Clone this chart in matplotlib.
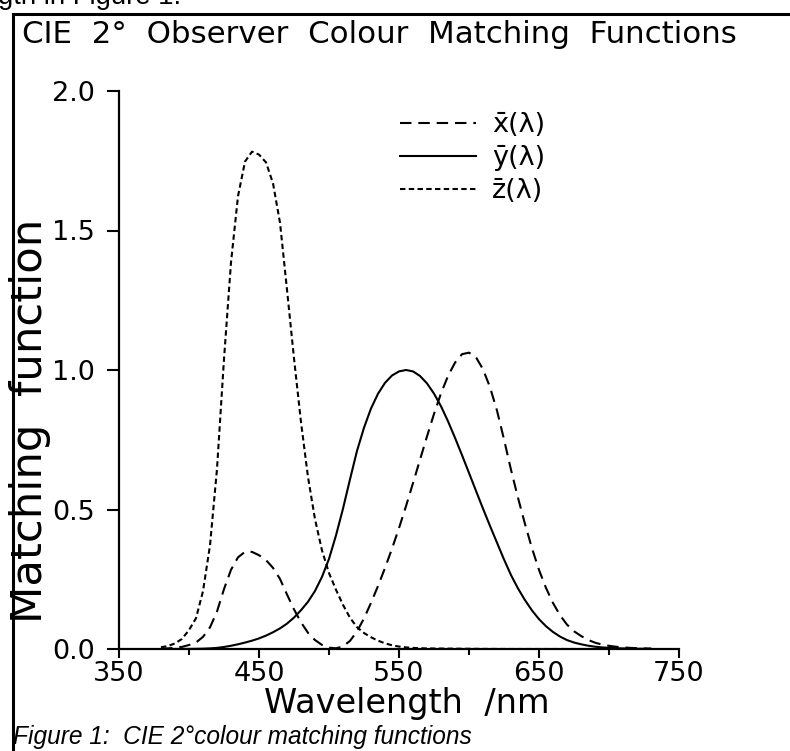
import matplotlib
matplotlib.use("Agg")
import matplotlib.pyplot as plt
from matplotlib.lines import Line2D

# ---- data (CIE 1931 2-degree observer, read at 5 nm steps) ----
wavelength = list(range(380, 735, 5))
xbar = [0.001368, 0.002236, 0.004243, 0.007650, 0.014310, 0.023190, 0.043510, 0.077630,
        0.134380, 0.214770, 0.283900, 0.328500, 0.348280, 0.348060, 0.336200, 0.318700,
        0.290800, 0.251100, 0.195360, 0.142100, 0.095640, 0.057950, 0.032010, 0.014700,
        0.004900, 0.002400, 0.009300, 0.029100, 0.063270, 0.109600, 0.165500, 0.225750,
        0.290400, 0.359700, 0.433450, 0.512050, 0.594500, 0.678400, 0.762100, 0.842500,
        0.916300, 0.978600, 1.026300, 1.056700, 1.062200, 1.045600, 1.002600, 0.938400,
        0.854450, 0.751400, 0.642400, 0.541900, 0.447900, 0.360800, 0.283500, 0.218700,
        0.164900, 0.121200, 0.087400, 0.063600, 0.046770, 0.032900, 0.022700, 0.015840,
        0.011359, 0.008111, 0.005790, 0.004109, 0.002899, 0.002049, 0.001440]
ybar = [0.000039, 0.000064, 0.000120, 0.000217, 0.000396, 0.000640, 0.001210, 0.002180,
        0.004000, 0.007300, 0.011600, 0.016840, 0.023000, 0.029800, 0.038000, 0.048000,
        0.060000, 0.073900, 0.090980, 0.112600, 0.139020, 0.169300, 0.208020, 0.258600,
        0.323000, 0.407300, 0.503000, 0.608200, 0.710000, 0.793200, 0.862000, 0.914850,
        0.954000, 0.980300, 0.994950, 1.000000, 0.995000, 0.978600, 0.952000, 0.915400,
        0.870000, 0.816300, 0.757000, 0.694900, 0.631000, 0.566800, 0.503000, 0.441200,
        0.381000, 0.321000, 0.265000, 0.217000, 0.175000, 0.138200, 0.107000, 0.081600,
        0.061000, 0.044580, 0.032000, 0.023200, 0.017000, 0.011920, 0.008210, 0.005723,
        0.004102, 0.002929, 0.002091, 0.001484, 0.001047, 0.000740, 0.000520]
zbar = [0.006450, 0.010550, 0.020050, 0.036210, 0.067850, 0.110200, 0.207400, 0.371300,
        0.645600, 1.039050, 1.385600, 1.622960, 1.747060, 1.782600, 1.772110, 1.744100,
        1.669200, 1.528100, 1.287640, 1.041900, 0.812950, 0.616200, 0.465180, 0.353300,
        0.272000, 0.212300, 0.158200, 0.111700, 0.078250, 0.057250, 0.042160, 0.029840,
        0.020300, 0.013400, 0.008750, 0.005750, 0.003900, 0.002750, 0.002100, 0.001800,
        0.001650, 0.001400, 0.001100, 0.001000, 0.000800, 0.000600, 0.000340, 0.000240,
        0.000190, 0.000100, 0.000050, 0.000030, 0.000020, 0.000010, 0.0, 0.0,
        0.0, 0.0, 0.0, 0.0, 0.0, 0.0, 0.0, 0.0,
        0.0, 0.0, 0.0, 0.0, 0.0, 0.0, 0.0]
series_labels = ["x\u0304(\u03bb)", "y\u0304(\u03bb)", "z\u0304(\u03bb)"]
xticks = [350, 450, 550, 650, 750]
xminor = [400, 500, 600, 700]
yticks = [0.0, 0.5, 1.0, 1.5, 2.0]
ytick_labels = ["0.0", "0.5", "1.0", "1.5", "2.0"]
title = "CIE  2\u00b0  Observer  Colour  Matching  Functions"
xlabel = "Wavelength  /nm"
ylabel = "Matching  function"
caption = "Figure 1:  CIE 2\u00b0colour matching functions"
top_snippet = "gth in Figure 1."

W, H = 790, 751
fig = plt.figure(figsize=(W / 100, H / 100), dpi=100)
fig.patch.set_facecolor("white")

def px(x, y):
    return x / W, 1 - y / H

# axes: 350 nm at x=119, 750 at x=679 ; 0.0 at y=649, 2.0 at y=91
L, R, T, B = 119, 679, 91, 649
ax = fig.add_axes([L / W, 1 - B / H, (R - L) / W, (B - T) / H])
ax.set_xlim(350, 750)
ax.set_ylim(0, 2.0)

lw = 1.5
ax.plot(wavelength, xbar, color="black", lw=lw, dashes=(5.5, 3.3), label=series_labels[0])
ax.plot(wavelength, ybar, color="black", lw=lw, ls="-", label=series_labels[1])
ax.plot(wavelength, zbar, color="black", lw=lw, dashes=(2.6, 1.6), label=series_labels[2])

for s in ["top", "right"]:
    ax.spines[s].set_visible(False)
for s in ["left", "bottom"]:
    ax.spines[s].set_linewidth(1.6)

ax.set_xticks(xticks)
ax.set_xticks(xminor, minor=True)
ax.set_yticks(yticks)
ax.set_yticklabels(ytick_labels)
ax.tick_params(axis="x", which="major", direction="out", length=6.5, width=1.5,
               labelsize=19.5, pad=2)
ax.tick_params(axis="x", which="minor", direction="out", length=4.5, width=1.5)
ax.tick_params(axis="y", which="major", direction="out", length=8.6, width=1.5,
               labelsize=19.5, pad=9)
for lab in ax.get_xticklabels() + ax.get_yticklabels():
    lab.set_family("DejaVu Sans")

leg = ax.legend(loc="upper left", bbox_to_anchor=((400 - L) / (R - L), (B - 112) / (B - T)),
                frameon=False, fontsize=19.5, handlelength=2.8, handletextpad=0.6,
                labelspacing=0.26, borderaxespad=0, borderpad=0)

renderer = fig.canvas.get_renderer()

def fit(t, target_w, axis=0):
    for _ in range(4):
        bb = t.get_window_extent(renderer)
        cur = bb.width if axis == 0 else bb.height
        t.set_fontsize(t.get_fontsize() * target_w / cur)

# title
tt = fig.text(*px(22, 43), title, fontsize=18, family="DejaVu Sans", ha="left", va="baseline")
fit(tt, 715)
# axis labels
xl = fig.text(*px(407, 703), xlabel, fontsize=22, family="DejaVu Sans", ha="center", va="center")
fit(xl, 286)
yl = fig.text(*px(30, 421), ylabel, fontsize=22, family="DejaVu Sans", ha="center",
              va="center", rotation=90)
fit(yl, 405, axis=1)
# caption and cut-off text above
cp = fig.text(*px(13, 744), caption, fontsize=14, family="Liberation Sans", style="italic",
              ha="left", va="baseline")
fit(cp, 459)
sn = fig.text(*px(-2, 4), top_snippet, fontsize=19, family="Liberation Sans", ha="left",
              va="baseline")
fit(sn, 184)

# page frame (left and top rules)
fig.add_artist(Line2D([13 / W, 13 / W], [0, 1 - 14 / H], transform=fig.transFigure,
                      color="black", lw=2.2, solid_capstyle="projecting"))
fig.add_artist(Line2D([13 / W, 1], [1 - 14 / H, 1 - 14 / H], transform=fig.transFigure,
                      color="black", lw=2.2, solid_capstyle="projecting"))

fig.savefig("out.png", dpi=100, facecolor="white")
